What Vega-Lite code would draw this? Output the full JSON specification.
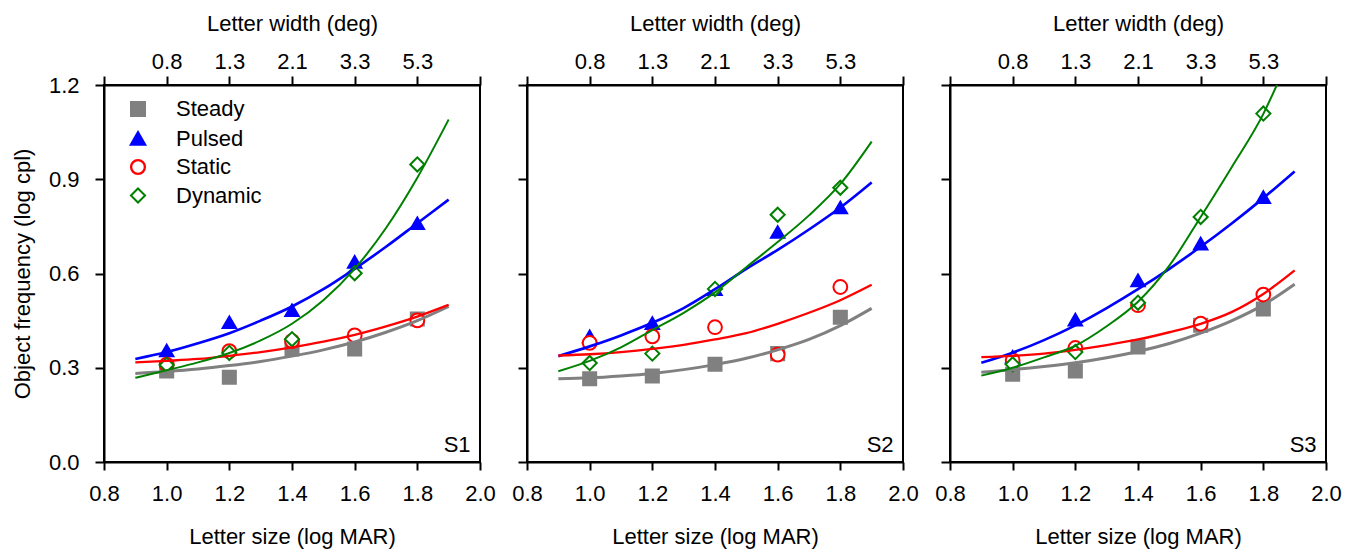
{
  "$schema": "https://vega.github.io/schema/vega-lite/v6.json",
  "autosize": {"type": "pad"},
  "padding": {"left": 10, "top": 11, "right": 5, "bottom": 3},
  "background": "white",
  "spacing": 47,
  "bounds": "flush",
  "datasets": {
    "pts": [
      {"s":"S1","c":"Steady","x":1.0,"y":0.29},{"s":"S1","c":"Steady","x":1.2,"y":0.27},{"s":"S1","c":"Steady","x":1.4,"y":0.36},{"s":"S1","c":"Steady","x":1.6,"y":0.36},{"s":"S1","c":"Steady","x":1.8,"y":0.455},
      {"s":"S1","c":"Pulsed","x":1.0,"y":0.355},{"s":"S1","c":"Pulsed","x":1.2,"y":0.445},{"s":"S1","c":"Pulsed","x":1.4,"y":0.483},{"s":"S1","c":"Pulsed","x":1.6,"y":0.637},{"s":"S1","c":"Pulsed","x":1.8,"y":0.76},
      {"s":"S1","c":"Static","x":1.0,"y":0.31},{"s":"S1","c":"Static","x":1.2,"y":0.353},{"s":"S1","c":"Static","x":1.4,"y":0.385},{"s":"S1","c":"Static","x":1.6,"y":0.403},{"s":"S1","c":"Static","x":1.8,"y":0.451},
      {"s":"S1","c":"Dynamic","x":1.0,"y":0.309},{"s":"S1","c":"Dynamic","x":1.2,"y":0.347},{"s":"S1","c":"Dynamic","x":1.4,"y":0.391},{"s":"S1","c":"Dynamic","x":1.6,"y":0.601},{"s":"S1","c":"Dynamic","x":1.8,"y":0.947},
      {"s":"S2","c":"Steady","x":1.0,"y":0.265},{"s":"S2","c":"Steady","x":1.2,"y":0.274},{"s":"S2","c":"Steady","x":1.4,"y":0.311},{"s":"S2","c":"Steady","x":1.6,"y":0.345},{"s":"S2","c":"Steady","x":1.8,"y":0.461},
      {"s":"S2","c":"Pulsed","x":1.0,"y":0.40},{"s":"S2","c":"Pulsed","x":1.2,"y":0.442},{"s":"S2","c":"Pulsed","x":1.4,"y":0.55},{"s":"S2","c":"Pulsed","x":1.6,"y":0.732},{"s":"S2","c":"Pulsed","x":1.8,"y":0.81},
      {"s":"S2","c":"Static","x":1.0,"y":0.379},{"s":"S2","c":"Static","x":1.2,"y":0.40},{"s":"S2","c":"Static","x":1.4,"y":0.429},{"s":"S2","c":"Static","x":1.6,"y":0.342},{"s":"S2","c":"Static","x":1.8,"y":0.557},
      {"s":"S2","c":"Dynamic","x":1.0,"y":0.315},{"s":"S2","c":"Dynamic","x":1.2,"y":0.345},{"s":"S2","c":"Dynamic","x":1.4,"y":0.551},{"s":"S2","c":"Dynamic","x":1.6,"y":0.787},{"s":"S2","c":"Dynamic","x":1.8,"y":0.873},
      {"s":"S3","c":"Steady","x":1.0,"y":0.279},{"s":"S3","c":"Steady","x":1.2,"y":0.29},{"s":"S3","c":"Steady","x":1.4,"y":0.366},{"s":"S3","c":"Steady","x":1.6,"y":0.435},{"s":"S3","c":"Steady","x":1.8,"y":0.487},
      {"s":"S3","c":"Pulsed","x":1.0,"y":0.335},{"s":"S3","c":"Pulsed","x":1.2,"y":0.453},{"s":"S3","c":"Pulsed","x":1.4,"y":0.578},{"s":"S3","c":"Pulsed","x":1.6,"y":0.695},{"s":"S3","c":"Pulsed","x":1.8,"y":0.843},
      {"s":"S3","c":"Static","x":1.0,"y":0.324},{"s":"S3","c":"Static","x":1.2,"y":0.363},{"s":"S3","c":"Static","x":1.4,"y":0.499},{"s":"S3","c":"Static","x":1.6,"y":0.44},{"s":"S3","c":"Static","x":1.8,"y":0.533},
      {"s":"S3","c":"Dynamic","x":1.0,"y":0.311},{"s":"S3","c":"Dynamic","x":1.2,"y":0.35},{"s":"S3","c":"Dynamic","x":1.4,"y":0.507},{"s":"S3","c":"Dynamic","x":1.6,"y":0.78},{"s":"S3","c":"Dynamic","x":1.8,"y":1.109}
    ],
    "fit": [
      {"s":"S1","c":"Steady","x":0.9,"y":0.282},{"s":"S1","c":"Steady","x":1.0,"y":0.288},{"s":"S1","c":"Steady","x":1.1,"y":0.296},{"s":"S1","c":"Steady","x":1.2,"y":0.307},{"s":"S1","c":"Steady","x":1.3,"y":0.32},{"s":"S1","c":"Steady","x":1.4,"y":0.337},{"s":"S1","c":"Steady","x":1.5,"y":0.357},{"s":"S1","c":"Steady","x":1.6,"y":0.382},{"s":"S1","c":"Steady","x":1.7,"y":0.413},{"s":"S1","c":"Steady","x":1.8,"y":0.45},{"s":"S1","c":"Steady","x":1.9,"y":0.495},
      {"s":"S1","c":"Pulsed","x":0.9,"y":0.328},{"s":"S1","c":"Pulsed","x":1.0,"y":0.35},{"s":"S1","c":"Pulsed","x":1.1,"y":0.378},{"s":"S1","c":"Pulsed","x":1.2,"y":0.41},{"s":"S1","c":"Pulsed","x":1.3,"y":0.45},{"s":"S1","c":"Pulsed","x":1.4,"y":0.495},{"s":"S1","c":"Pulsed","x":1.5,"y":0.55},{"s":"S1","c":"Pulsed","x":1.6,"y":0.615},{"s":"S1","c":"Pulsed","x":1.7,"y":0.685},{"s":"S1","c":"Pulsed","x":1.8,"y":0.76},{"s":"S1","c":"Pulsed","x":1.9,"y":0.835},
      {"s":"S1","c":"Static","x":0.9,"y":0.317},{"s":"S1","c":"Static","x":1.0,"y":0.322},{"s":"S1","c":"Static","x":1.1,"y":0.328},{"s":"S1","c":"Static","x":1.2,"y":0.338},{"s":"S1","c":"Static","x":1.3,"y":0.35},{"s":"S1","c":"Static","x":1.4,"y":0.365},{"s":"S1","c":"Static","x":1.5,"y":0.383},{"s":"S1","c":"Static","x":1.6,"y":0.405},{"s":"S1","c":"Static","x":1.7,"y":0.432},{"s":"S1","c":"Static","x":1.8,"y":0.463},{"s":"S1","c":"Static","x":1.9,"y":0.50},
      {"s":"S1","c":"Dynamic","x":0.9,"y":0.268},{"s":"S1","c":"Dynamic","x":1.0,"y":0.292},{"s":"S1","c":"Dynamic","x":1.1,"y":0.317},{"s":"S1","c":"Dynamic","x":1.2,"y":0.347},{"s":"S1","c":"Dynamic","x":1.3,"y":0.387},{"s":"S1","c":"Dynamic","x":1.4,"y":0.44},{"s":"S1","c":"Dynamic","x":1.5,"y":0.515},{"s":"S1","c":"Dynamic","x":1.6,"y":0.615},{"s":"S1","c":"Dynamic","x":1.7,"y":0.745},{"s":"S1","c":"Dynamic","x":1.8,"y":0.905},{"s":"S1","c":"Dynamic","x":1.9,"y":1.09},
      {"s":"S2","c":"Steady","x":0.9,"y":0.265},{"s":"S2","c":"Steady","x":1.0,"y":0.268},{"s":"S2","c":"Steady","x":1.1,"y":0.274},{"s":"S2","c":"Steady","x":1.2,"y":0.282},{"s":"S2","c":"Steady","x":1.3,"y":0.294},{"s":"S2","c":"Steady","x":1.4,"y":0.31},{"s":"S2","c":"Steady","x":1.5,"y":0.33},{"s":"S2","c":"Steady","x":1.6,"y":0.357},{"s":"S2","c":"Steady","x":1.7,"y":0.39},{"s":"S2","c":"Steady","x":1.8,"y":0.434},{"s":"S2","c":"Steady","x":1.9,"y":0.489},
      {"s":"S2","c":"Pulsed","x":0.9,"y":0.337},{"s":"S2","c":"Pulsed","x":1.0,"y":0.368},{"s":"S2","c":"Pulsed","x":1.1,"y":0.403},{"s":"S2","c":"Pulsed","x":1.2,"y":0.443},{"s":"S2","c":"Pulsed","x":1.3,"y":0.49},{"s":"S2","c":"Pulsed","x":1.4,"y":0.55},{"s":"S2","c":"Pulsed","x":1.5,"y":0.615},{"s":"S2","c":"Pulsed","x":1.6,"y":0.675},{"s":"S2","c":"Pulsed","x":1.7,"y":0.74},{"s":"S2","c":"Pulsed","x":1.8,"y":0.81},{"s":"S2","c":"Pulsed","x":1.9,"y":0.89},
      {"s":"S2","c":"Static","x":0.9,"y":0.339},{"s":"S2","c":"Static","x":1.0,"y":0.343},{"s":"S2","c":"Static","x":1.1,"y":0.35},{"s":"S2","c":"Static","x":1.2,"y":0.36},{"s":"S2","c":"Static","x":1.3,"y":0.373},{"s":"S2","c":"Static","x":1.4,"y":0.39},{"s":"S2","c":"Static","x":1.5,"y":0.41},{"s":"S2","c":"Static","x":1.6,"y":0.44},{"s":"S2","c":"Static","x":1.7,"y":0.475},{"s":"S2","c":"Static","x":1.8,"y":0.515},{"s":"S2","c":"Static","x":1.9,"y":0.564},
      {"s":"S2","c":"Dynamic","x":0.9,"y":0.289},{"s":"S2","c":"Dynamic","x":1.0,"y":0.322},{"s":"S2","c":"Dynamic","x":1.1,"y":0.365},{"s":"S2","c":"Dynamic","x":1.2,"y":0.42},{"s":"S2","c":"Dynamic","x":1.3,"y":0.475},{"s":"S2","c":"Dynamic","x":1.4,"y":0.54},{"s":"S2","c":"Dynamic","x":1.5,"y":0.62},{"s":"S2","c":"Dynamic","x":1.6,"y":0.70},{"s":"S2","c":"Dynamic","x":1.7,"y":0.785},{"s":"S2","c":"Dynamic","x":1.8,"y":0.885},{"s":"S2","c":"Dynamic","x":1.9,"y":1.02},
      {"s":"S3","c":"Steady","x":0.9,"y":0.286},{"s":"S3","c":"Steady","x":1.0,"y":0.294},{"s":"S3","c":"Steady","x":1.1,"y":0.304},{"s":"S3","c":"Steady","x":1.2,"y":0.316},{"s":"S3","c":"Steady","x":1.3,"y":0.332},{"s":"S3","c":"Steady","x":1.4,"y":0.352},{"s":"S3","c":"Steady","x":1.5,"y":0.377},{"s":"S3","c":"Steady","x":1.6,"y":0.41},{"s":"S3","c":"Steady","x":1.7,"y":0.45},{"s":"S3","c":"Steady","x":1.8,"y":0.50},{"s":"S3","c":"Steady","x":1.9,"y":0.566},
      {"s":"S3","c":"Pulsed","x":0.9,"y":0.316},{"s":"S3","c":"Pulsed","x":1.0,"y":0.348},{"s":"S3","c":"Pulsed","x":1.1,"y":0.388},{"s":"S3","c":"Pulsed","x":1.2,"y":0.435},{"s":"S3","c":"Pulsed","x":1.3,"y":0.49},{"s":"S3","c":"Pulsed","x":1.4,"y":0.55},{"s":"S3","c":"Pulsed","x":1.5,"y":0.615},{"s":"S3","c":"Pulsed","x":1.6,"y":0.685},{"s":"S3","c":"Pulsed","x":1.7,"y":0.76},{"s":"S3","c":"Pulsed","x":1.8,"y":0.84},{"s":"S3","c":"Pulsed","x":1.9,"y":0.925},
      {"s":"S3","c":"Static","x":0.9,"y":0.334},{"s":"S3","c":"Static","x":1.0,"y":0.338},{"s":"S3","c":"Static","x":1.1,"y":0.345},{"s":"S3","c":"Static","x":1.2,"y":0.357},{"s":"S3","c":"Static","x":1.3,"y":0.372},{"s":"S3","c":"Static","x":1.4,"y":0.39},{"s":"S3","c":"Static","x":1.5,"y":0.413},{"s":"S3","c":"Static","x":1.6,"y":0.44},{"s":"S3","c":"Static","x":1.7,"y":0.478},{"s":"S3","c":"Static","x":1.8,"y":0.535},{"s":"S3","c":"Static","x":1.9,"y":0.61},
      {"s":"S3","c":"Dynamic","x":0.9,"y":0.275},{"s":"S3","c":"Dynamic","x":1.0,"y":0.30},{"s":"S3","c":"Dynamic","x":1.1,"y":0.333},{"s":"S3","c":"Dynamic","x":1.2,"y":0.37},{"s":"S3","c":"Dynamic","x":1.3,"y":0.432},{"s":"S3","c":"Dynamic","x":1.4,"y":0.51},{"s":"S3","c":"Dynamic","x":1.5,"y":0.625},{"s":"S3","c":"Dynamic","x":1.6,"y":0.78},{"s":"S3","c":"Dynamic","x":1.7,"y":0.94},{"s":"S3","c":"Dynamic","x":1.8,"y":1.108},{"s":"S3","c":"Dynamic","x":1.85,"y":1.215}
    ],
    "lab": [
      {"s":"S1","lx":1.97,"ly":0.033},
      {"s":"S2","lx":1.97,"ly":0.033},
      {"s":"S3","lx":1.97,"ly":0.033}
    ]
  },
  "hconcat": [
    {
      "width": 376, "height": 377,
      "resolve": {"axis": {"x": "independent"}},
      "layer": [
        {
          "data": {"name": "pts"},
          "transform": [{"filter": "datum.s == 'S1'"}],
          "mark": {"type": "point", "strokeWidth": 2, "opacity": 1, "fillOpacity": 1},
          "encoding": {
            "x": {"field": "x", "type": "quantitative", "scale": {"domain": [0.8, 2.0], "nice": false, "zero": false},
              "axis": {"orient": "bottom", "title": "Letter size (log MAR)", "values": [0.8, 1.0, 1.2, 1.4, 1.6, 1.8, 2.0], "format": ".1f", "tickSize": 8, "labelPadding": 13, "titlePadding": 22}},
            "y": {"field": "y", "type": "quantitative", "scale": {"domain": [0, 1.2], "nice": false},
              "axis": {"title": "Object frequency (log cpl)", "values": [0, 0.3, 0.6, 0.9, 1.2], "format": ".1f", "tickSize": 9, "labelPadding": 16, "titlePadding": 14}},
            "shape": {"field": "c", "type": "nominal", "scale": {"domain": ["Steady", "Pulsed", "Static", "Dynamic"], "range": ["square", "triangle-up", "circle", "diamond"]}, "legend": {"title": null}},
            "fill": {"field": "c", "type": "nominal", "scale": {"domain": ["Steady", "Pulsed", "Static", "Dynamic"], "range": ["#808080", "#0000ff", "#ffffff", "#ffffff"]}, "legend": {"title": null}},
            "stroke": {"field": "c", "type": "nominal", "scale": {"domain": ["Steady", "Pulsed", "Static", "Dynamic"], "range": ["#808080", "#0000ff", "#ff0000", "#008000"]}, "legend": {"title": null}},
            "size": {"field": "c", "type": "nominal", "scale": {"domain": ["Steady", "Pulsed", "Static", "Dynamic"], "range": [170, 200, 210, 330]}, "legend": {"title": null}}
          }
        },
        {
          "data": {"name": "fit"},
          "transform": [{"filter": "datum.s == 'S1'"}],
          "mark": {"type": "line", "interpolate": "monotone", "clip": true},
          "encoding": {
            "x": {"field": "x", "type": "quantitative", "scale": {"domain": [0.8, 2.0], "nice": false, "zero": false},
              "axis": {"orient": "top", "title": "Letter width (deg)", "values": [0.8, 1.0, 1.2, 1.4, 1.6, 1.8, 2.0], "tickSize": 9, "labelPadding": 3, "titlePadding": 15,
                "labelExpr": "round(datum.value*10)==10?'0.8':round(datum.value*10)==12?'1.3':round(datum.value*10)==14?'2.1':round(datum.value*10)==16?'3.3':round(datum.value*10)==18?'5.3':''"}},
            "y": {"field": "y", "type": "quantitative", "scale": {"domain": [0, 1.2], "nice": false},
              "axis": {"title": "Object frequency (log cpl)", "values": [0, 0.3, 0.6, 0.9, 1.2], "format": ".1f", "tickSize": 9, "labelPadding": 16, "titlePadding": 14}},
            "color": {"field": "c", "type": "nominal", "scale": {"domain": ["Steady", "Pulsed", "Static", "Dynamic"], "range": ["#808080", "#0000ff", "#ff0000", "#008000"]}, "legend": null},
            "strokeWidth": {"field": "c", "type": "nominal", "scale": {"domain": ["Steady", "Pulsed", "Static", "Dynamic"], "range": [3, 2, 2, 2]}, "legend": null}
          }
        },
        {
          "data": {"name": "lab"},
          "transform": [{"filter": "datum.s == 'S1'"}],
          "mark": {"type": "text", "align": "right", "baseline": "alphabetic", "fontSize": 22, "font": "Liberation Sans", "color": "black"},
          "encoding": {
            "x": {"field": "lx", "type": "quantitative", "axis": null},
            "y": {"field": "ly", "type": "quantitative",
              "axis": {"title": "Object frequency (log cpl)", "values": [0, 0.3, 0.6, 0.9, 1.2], "format": ".1f", "tickSize": 9, "labelPadding": 16, "titlePadding": 14}},
            "text": {"field": "s"}
          }
        }
      ]
    },
    {
      "width": 376, "height": 377,
      "resolve": {"axis": {"x": "independent"}},
      "layer": [
        {
          "data": {"name": "pts"},
          "transform": [{"filter": "datum.s == 'S2'"}],
          "mark": {"type": "point", "strokeWidth": 2, "opacity": 1, "fillOpacity": 1},
          "encoding": {
            "x": {"field": "x", "type": "quantitative", "scale": {"domain": [0.8, 2.0], "nice": false, "zero": false},
              "axis": {"orient": "bottom", "title": "Letter size (log MAR)", "values": [0.8, 1.0, 1.2, 1.4, 1.6, 1.8, 2.0], "format": ".1f", "tickSize": 8, "labelPadding": 13, "titlePadding": 22}},
            "y": {"field": "y", "type": "quantitative", "scale": {"domain": [0, 1.2], "nice": false},
              "axis": {"title": null, "labels": false, "values": [0, 0.3, 0.6, 0.9, 1.2], "tickSize": 9}},
            "shape": {"field": "c", "type": "nominal", "scale": {"domain": ["Steady", "Pulsed", "Static", "Dynamic"], "range": ["square", "triangle-up", "circle", "diamond"]}, "legend": null},
            "fill": {"field": "c", "type": "nominal", "scale": {"domain": ["Steady", "Pulsed", "Static", "Dynamic"], "range": ["#808080", "#0000ff", "#ffffff", "#ffffff"]}, "legend": null},
            "stroke": {"field": "c", "type": "nominal", "scale": {"domain": ["Steady", "Pulsed", "Static", "Dynamic"], "range": ["#808080", "#0000ff", "#ff0000", "#008000"]}, "legend": null},
            "size": {"field": "c", "type": "nominal", "scale": {"domain": ["Steady", "Pulsed", "Static", "Dynamic"], "range": [170, 200, 210, 330]}, "legend": null}
          }
        },
        {
          "data": {"name": "fit"},
          "transform": [{"filter": "datum.s == 'S2'"}],
          "mark": {"type": "line", "interpolate": "monotone", "clip": true},
          "encoding": {
            "x": {"field": "x", "type": "quantitative", "scale": {"domain": [0.8, 2.0], "nice": false, "zero": false},
              "axis": {"orient": "top", "title": "Letter width (deg)", "values": [0.8, 1.0, 1.2, 1.4, 1.6, 1.8, 2.0], "tickSize": 9, "labelPadding": 3, "titlePadding": 15,
                "labelExpr": "round(datum.value*10)==10?'0.8':round(datum.value*10)==12?'1.3':round(datum.value*10)==14?'2.1':round(datum.value*10)==16?'3.3':round(datum.value*10)==18?'5.3':''"}},
            "y": {"field": "y", "type": "quantitative", "scale": {"domain": [0, 1.2], "nice": false},
              "axis": {"title": null, "labels": false, "values": [0, 0.3, 0.6, 0.9, 1.2], "tickSize": 9}},
            "color": {"field": "c", "type": "nominal", "scale": {"domain": ["Steady", "Pulsed", "Static", "Dynamic"], "range": ["#808080", "#0000ff", "#ff0000", "#008000"]}, "legend": null},
            "strokeWidth": {"field": "c", "type": "nominal", "scale": {"domain": ["Steady", "Pulsed", "Static", "Dynamic"], "range": [3, 2, 2, 2]}, "legend": null}
          }
        },
        {
          "data": {"name": "lab"},
          "transform": [{"filter": "datum.s == 'S2'"}],
          "mark": {"type": "text", "align": "right", "baseline": "alphabetic", "fontSize": 22, "font": "Liberation Sans", "color": "black"},
          "encoding": {
            "x": {"field": "lx", "type": "quantitative", "axis": null},
            "y": {"field": "ly", "type": "quantitative",
              "axis": {"title": null, "labels": false, "values": [0, 0.3, 0.6, 0.9, 1.2], "tickSize": 9}},
            "text": {"field": "s"}
          }
        }
      ]
    },
    {
      "width": 376, "height": 377,
      "resolve": {"axis": {"x": "independent"}},
      "layer": [
        {
          "data": {"name": "pts"},
          "transform": [{"filter": "datum.s == 'S3'"}],
          "mark": {"type": "point", "strokeWidth": 2, "opacity": 1, "fillOpacity": 1},
          "encoding": {
            "x": {"field": "x", "type": "quantitative", "scale": {"domain": [0.8, 2.0], "nice": false, "zero": false},
              "axis": {"orient": "bottom", "title": "Letter size (log MAR)", "values": [0.8, 1.0, 1.2, 1.4, 1.6, 1.8, 2.0], "format": ".1f", "tickSize": 8, "labelPadding": 13, "titlePadding": 22}},
            "y": {"field": "y", "type": "quantitative", "scale": {"domain": [0, 1.2], "nice": false},
              "axis": {"title": null, "labels": false, "values": [0, 0.3, 0.6, 0.9, 1.2], "tickSize": 9}},
            "shape": {"field": "c", "type": "nominal", "scale": {"domain": ["Steady", "Pulsed", "Static", "Dynamic"], "range": ["square", "triangle-up", "circle", "diamond"]}, "legend": null},
            "fill": {"field": "c", "type": "nominal", "scale": {"domain": ["Steady", "Pulsed", "Static", "Dynamic"], "range": ["#808080", "#0000ff", "#ffffff", "#ffffff"]}, "legend": null},
            "stroke": {"field": "c", "type": "nominal", "scale": {"domain": ["Steady", "Pulsed", "Static", "Dynamic"], "range": ["#808080", "#0000ff", "#ff0000", "#008000"]}, "legend": null},
            "size": {"field": "c", "type": "nominal", "scale": {"domain": ["Steady", "Pulsed", "Static", "Dynamic"], "range": [170, 200, 210, 330]}, "legend": null}
          }
        },
        {
          "data": {"name": "fit"},
          "transform": [{"filter": "datum.s == 'S3'"}],
          "mark": {"type": "line", "interpolate": "monotone", "clip": true},
          "encoding": {
            "x": {"field": "x", "type": "quantitative", "scale": {"domain": [0.8, 2.0], "nice": false, "zero": false},
              "axis": {"orient": "top", "title": "Letter width (deg)", "values": [0.8, 1.0, 1.2, 1.4, 1.6, 1.8, 2.0], "tickSize": 9, "labelPadding": 3, "titlePadding": 15,
                "labelExpr": "round(datum.value*10)==10?'0.8':round(datum.value*10)==12?'1.3':round(datum.value*10)==14?'2.1':round(datum.value*10)==16?'3.3':round(datum.value*10)==18?'5.3':''"}},
            "y": {"field": "y", "type": "quantitative", "scale": {"domain": [0, 1.2], "nice": false},
              "axis": {"title": null, "labels": false, "values": [0, 0.3, 0.6, 0.9, 1.2], "tickSize": 9}},
            "color": {"field": "c", "type": "nominal", "scale": {"domain": ["Steady", "Pulsed", "Static", "Dynamic"], "range": ["#808080", "#0000ff", "#ff0000", "#008000"]}, "legend": null},
            "strokeWidth": {"field": "c", "type": "nominal", "scale": {"domain": ["Steady", "Pulsed", "Static", "Dynamic"], "range": [3, 2, 2, 2]}, "legend": null}
          }
        },
        {
          "data": {"name": "lab"},
          "transform": [{"filter": "datum.s == 'S3'"}],
          "mark": {"type": "text", "align": "right", "baseline": "alphabetic", "fontSize": 22, "font": "Liberation Sans", "color": "black"},
          "encoding": {
            "x": {"field": "lx", "type": "quantitative", "axis": null},
            "y": {"field": "ly", "type": "quantitative",
              "axis": {"title": null, "labels": false, "values": [0, 0.3, 0.6, 0.9, 1.2], "tickSize": 9}},
            "text": {"field": "s"}
          }
        }
      ]
    }
  ],
  "resolve": {
    "scale": {"x": "independent", "y": "independent", "color": "independent", "shape": "independent", "fill": "independent", "stroke": "independent", "strokeWidth": "independent", "size": "independent"},
    "legend": {"color": "independent", "shape": "independent", "fill": "independent", "stroke": "independent", "strokeWidth": "independent", "size": "independent"}
  },
  "config": {
    "font": "Liberation Sans",
    "view": {"stroke": "#000000", "strokeWidth": 2},
    "axis": {
      "grid": false, "domainColor": "#000000", "domainWidth": 2, "tickColor": "#000000", "tickWidth": 2,
      "labelFont": "Liberation Sans", "labelFontSize": 22, "labelColor": "#000000", "labelFlush": false, "labelOverlap": false, "labelBound": false,
      "titleFont": "Liberation Sans", "titleFontSize": 22, "titleFontWeight": "normal", "titleColor": "#000000"
    },
    "legend": {
      "orient": "none", "legendX": 23, "legendY": 13, "padding": 0,
      "labelFont": "Liberation Sans", "labelFontSize": 22, "labelColor": "#000000",
      "symbolStrokeWidth": 2, "labelOffset": 27, "rowPadding": 4.5
    }
  }
}
